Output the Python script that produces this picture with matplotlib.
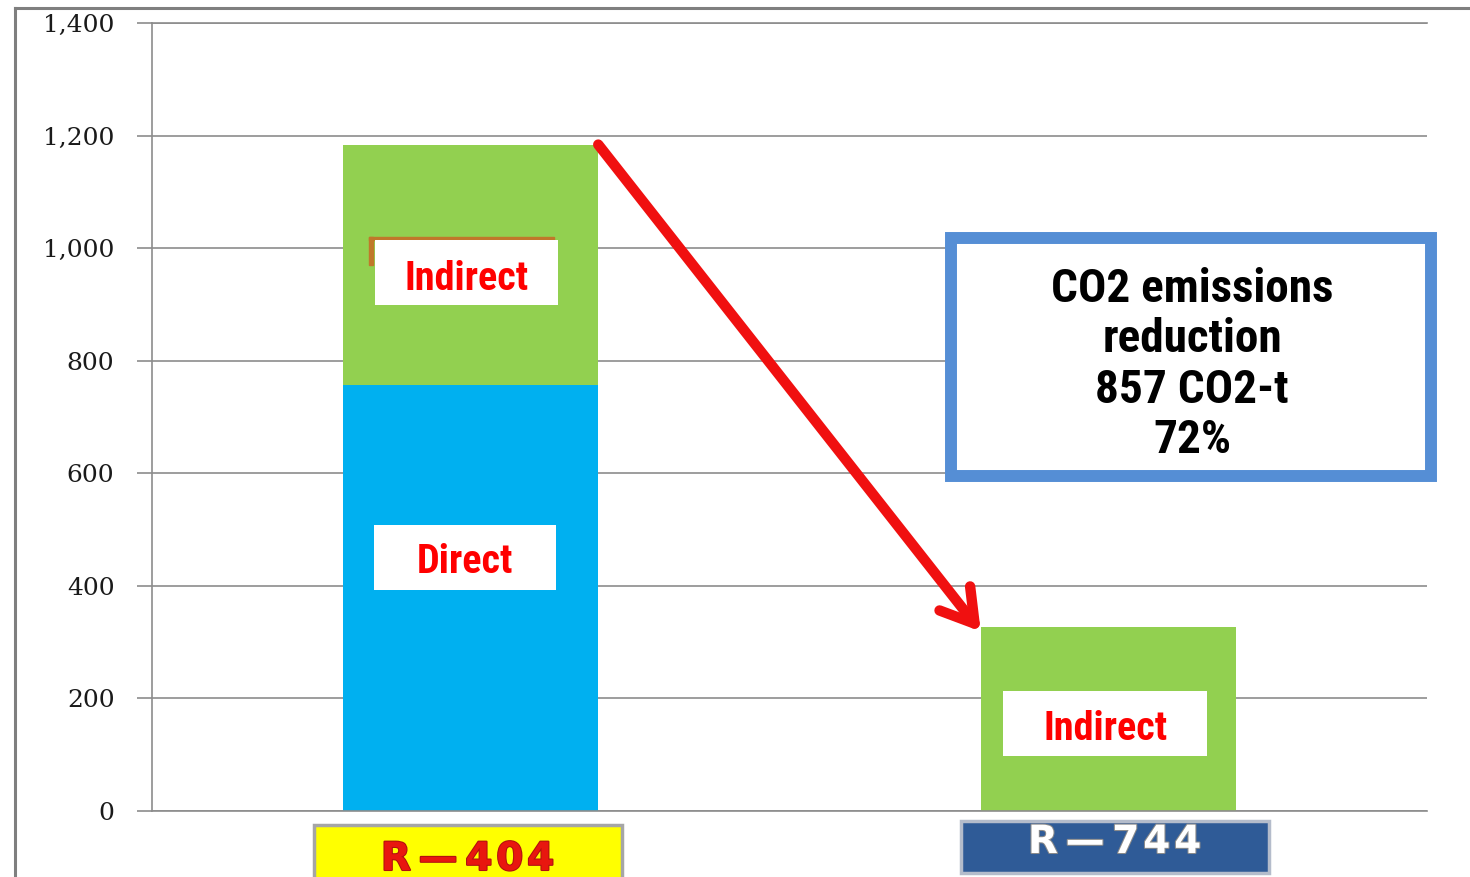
import matplotlib
matplotlib.use("Agg")
import matplotlib.pyplot as plt
from matplotlib.patches import Rectangle
from matplotlib.lines import Line2D
from matplotlib.transforms import blended_transform_factory
import matplotlib.patheffects as pe

# ---- data ----
categories = ["R\u2009\u2014\u20094\u200a0\u200a4", "R\u2009\u2014\u20097\u200a4\u200a4"]
direct = [757, 0]
indirect = [427, 327]
yticks = [0, 200, 400, 600, 800, 1000, 1200, 1400]

W, H = 1470, 877
fig = plt.figure(figsize=(W / 100, H / 100), dpi=100)
ax = fig.add_axes([152 / W, 66 / H, 1275 / W, 788 / H])

narrow = ["Roboto Condensed", "Archivo Narrow", "DejaVu Sans"]
x = [0, 1]
bw = 0.4
totals = [d + i for d, i in zip(direct, indirect)]

ax.bar(x, direct, width=bw, color="#00B0F0", zorder=2)
ax.bar(x, indirect, width=bw, bottom=direct, color="#92D050", zorder=2)

ax.set_xlim(-0.5, 1.5)
ax.set_ylim(0, 1400)
ax.set_yticks(yticks)
ax.set_yticklabels([f"{v:,}" for v in yticks], family="DejaVu Serif",
                   fontsize=18, color="#1A1A1A")
ax.set_xticks([])
ax.tick_params(axis="y", length=11, width=1.2, color="#8C8C8C", pad=16)
ax.yaxis.grid(True, color="#8C8C8C", lw=1.2, zorder=0)
ax.set_axisbelow(True)
ax.spines["right"].set_visible(False)
for s in ["left", "top", "bottom"]:
    ax.spines[s].set_color("#8C8C8C")
    ax.spines[s].set_linewidth(1.2)

# hidden original label remnant (peeking out behind the white box)
ax.add_patch(Rectangle((-0.16, 1014), 0.29, 5, color="#C0782A", zorder=3))
ax.add_patch(Rectangle((-0.16, 970), 0.006, 49, color="#C0782A", zorder=3))

# segment labels (white boxes with red text)
seg_labels = [
    (x[0] - 0.007, 957, 0.287, 115, "Indirect", 925),
    (x[0] - 0.009, 450, 0.287, 115, "Direct", 423),
    (x[1] - 0.005, 155, 0.320, 115, "Indirect", 126),
]
for cx, cy, w, h, txt, base in seg_labels:
    ax.add_patch(Rectangle((cx - w / 2, cy - h / 2), w, h, facecolor="white",
                           edgecolor="none", zorder=4))
    ax.text(cx, base, txt, ha="center", va="baseline", color="#FF0000",
            fontsize=29, fontweight="bold", family=narrow, zorder=5)

# arrow
ax.annotate("", xy=(x[1] - bw / 2, totals[1] - 8), xytext=(x[0] + bw / 2, totals[0]),
            arrowprops=dict(arrowstyle="->,head_length=1.15,head_width=0.7",
                            color="#F01010", lw=7.5, shrinkA=0, shrinkB=0,
                            mutation_scale=20),
            zorder=6)

# reduction box
red = totals[0] - totals[1]
pct = round(100 * red / totals[0])
fig.add_artist(Rectangle((951 / W, 1 - 476.5 / H), 480 / W, 238 / H,
                         transform=fig.transFigure, facecolor="white",
                         edgecolor="#558ED5", lw=8.6, zorder=7))
lines = ["CO2 emissions", "reduction", f"{red} CO2-t", f"{pct}%"]
for i, ln in enumerate(lines):
    fig.text(1192 / W, 1 - (302 + 50.3 * i) / H, ln, ha="center", va="baseline",
             fontsize=34, fontweight="bold", family=narrow, color="black", zorder=8)

# category label boxes
tr = blended_transform_factory(ax.transData, fig.transFigure)
cat_style = [
    dict(fc="#FFFF00", ec="#A6A6A6", tc="#E8170F", oc="#B01010",
         top=825, bottom=885, base=870, dx=-0.005),
    dict(fc="#2F5B97", ec="#B4BCCB", tc="white", oc="#8A8A8A",
         top=821, bottom=873, base=853, dx=0.01),
]
bwl = 308 / 637.5
for xi, lab, st in zip(x, categories, cat_style):
    cx = xi + st["dx"]
    fig.add_artist(Rectangle((cx - bwl / 2, 1 - st["bottom"] / H), bwl,
                             (st["bottom"] - st["top"]) / H, transform=tr,
                             facecolor=st["fc"], edgecolor=st["ec"], lw=2.5,
                             clip_on=False, zorder=7))
    t = fig.text(cx, 1 - st["base"] / H, lab, transform=tr, ha="center",
                 va="baseline", fontsize=28, fontweight="bold",
                 family="DejaVu Sans", color=st["tc"], zorder=8)
    t.set_path_effects([pe.withStroke(linewidth=1.5, foreground=st["oc"])])

# outer frame
fig.add_artist(Line2D([15 / W, 15 / W], [0, 1 - 8 / H], color="#7F7F7F", lw=2.2))
fig.add_artist(Line2D([15 / W, 1], [1 - 8 / H, 1 - 8 / H], color="#7F7F7F", lw=2.2))

fig.savefig("out.png", dpi=100)
